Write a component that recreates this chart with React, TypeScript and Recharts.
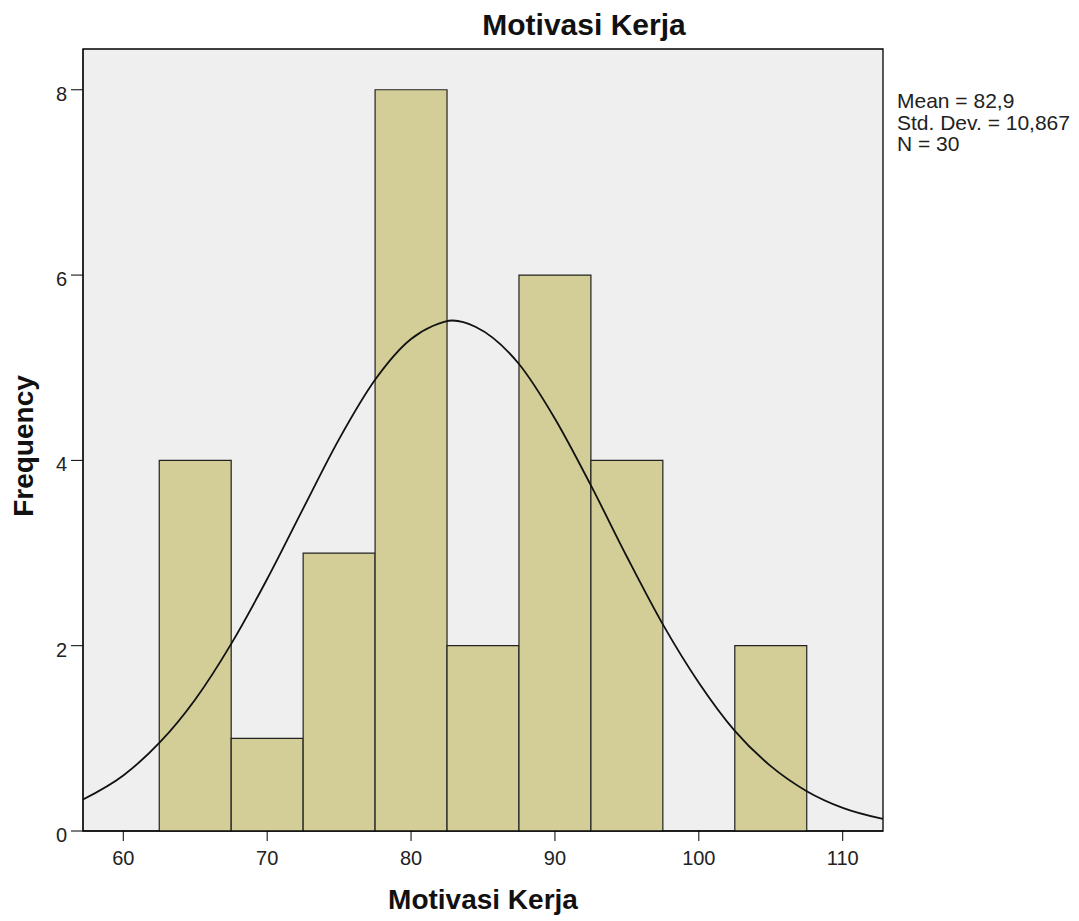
import React from "react";
import {
  ComposedChart,
  Line,
  XAxis,
  YAxis,
  CartesianGrid,
  ReferenceArea,
} from "recharts";

// histogram bins (lower edge) and counts
const binStarts = [62.5, 67.5, 72.5, 77.5, 82.5, 87.5, 92.5, 97.5, 102.5];
const binCounts = [4, 1, 3, 8, 2, 6, 4, 0, 2];
const binWidth = 5;

// normal curve
const curveX = [57.2, 60, 62.5, 65, 67.5, 70, 72.5, 75, 77.5, 80, 81.5, 82.9, 84.5, 87.5, 90, 92.5, 95, 97.5, 100, 102.5, 105, 107.5, 110, 112.8];
const curveY = [0.34, 0.6, 0.95, 1.42, 2.02, 2.72, 3.48, 4.23, 4.87, 5.31, 5.45, 5.51, 5.44, 5.04, 4.45, 3.73, 2.96, 2.23, 1.6, 1.08, 0.7, 0.43, 0.25, 0.13];

const xDomain = [57.2, 112.8];
const yDomain = [0, 8.44];
const xTicks = [60, 70, 80, 90, 100, 110];
const yTicks = [0, 2, 4, 6, 8];
const statLines = ["Mean = 82,9", "Std. Dev. = 10,867", "N = 30"];

const FONT = "'Liberation Sans', Arial, sans-serif";

// y tick text sits a few px below its tick mark, like SPSS
const YTick = (props: any) => {
  const { x, y, payload } = props;
  return (
    <text x={x} y={y + 11} textAnchor="end" fontSize={20} fontFamily={FONT} fill="#222">
      {payload.value}
    </text>
  );
};

export default function App() {
  const curve = curveX.map((x, i) => ({ x, y: curveY[i] }));

  return (
    <div style={{ position: "absolute", left: 0, top: 0, width: 1079, height: 921, background: "#fff", fontFamily: FONT }}>
      <div style={{ position: "absolute", left: 384, top: 10, width: 400, textAlign: "center", fontSize: 30, lineHeight: "30px", fontWeight: "bold", color: "#111" }}>
        Motivasi Kerja
      </div>
      <div style={{ position: "absolute", left: 283, top: 886, width: 400, textAlign: "center", fontSize: 28, lineHeight: "28px", fontWeight: "bold", color: "#111" }}>
        Motivasi Kerja
      </div>
      <div
        style={{
          position: "absolute",
          left: 24,
          top: 446,
          transform: "translate(-50%, -50%) rotate(-90deg)",
          fontSize: 28,
          lineHeight: "28px",
          fontWeight: "bold",
          color: "#111",
          whiteSpace: "nowrap",
        }}
      >
        Frequency
      </div>
      <div style={{ position: "absolute", left: 897, top: 90, fontSize: 21, lineHeight: "21.5px", color: "#222" }}>
        {statLines.map((s) => (
          <div key={s}>{s}</div>
        ))}
      </div>

      <ComposedChart
        width={1079}
        height={921}
        data={curve}
        margin={{ top: 49, right: 196, bottom: 50, left: 43 }}
        style={{ position: "absolute", left: 0, top: 0 }}
      >
        <CartesianGrid fill="#efefef" horizontal={false} vertical={false} />
        <XAxis
          dataKey="x"
          type="number"
          domain={xDomain}
          ticks={xTicks}
          tick={{ fill: "#222", fontSize: 20, fontFamily: FONT }}
          tickSize={10}
          tickMargin={10}
          tickLine={{ stroke: "#000" }}
          axisLine={{ stroke: "#000" }}
          height={40}
          allowDataOverflow
        />
        <YAxis
          type="number"
          domain={yDomain}
          ticks={yTicks}
          tick={<YTick />}
          tickSize={12}
          tickMargin={4}
          tickLine={{ stroke: "#000" }}
          axisLine={{ stroke: "#000" }}
          width={40}
          allowDataOverflow
        />
        {/* plot frame */}
        <ReferenceArea
          x1={xDomain[0]}
          x2={xDomain[1]}
          y1={yDomain[0]}
          y2={yDomain[1]}
          fill="none"
          stroke="#000"
          strokeWidth={1.3}
        />
        {binStarts.map((b, i) =>
          binCounts[i] > 0 ? (
            <ReferenceArea
              key={b}
              x1={b}
              x2={b + binWidth}
              y1={0}
              y2={binCounts[i]}
              fill="#d3ce97"
              fillOpacity={1}
              stroke="#222"
              strokeWidth={1.2}
            />
          ) : null
        )}
        <Line
          dataKey="y"
          type="monotone"
          stroke="#111"
          strokeWidth={1.8}
          dot={false}
          isAnimationActive={false}
        />
      </ComposedChart>
    </div>
  );
}
